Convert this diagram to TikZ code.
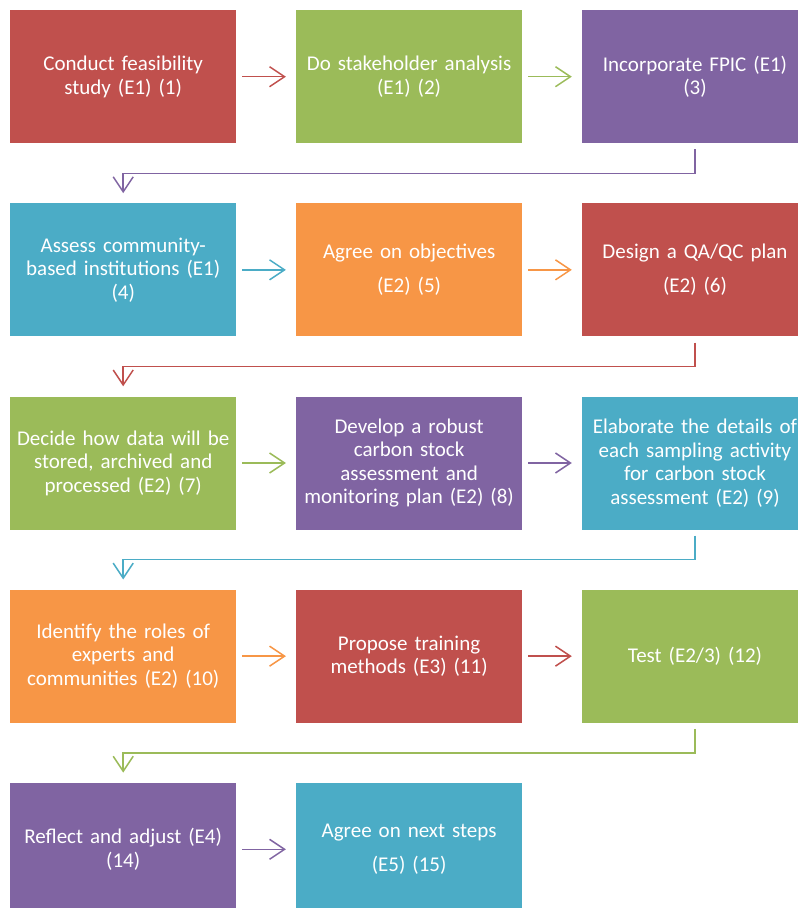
\documentclass[tikz,border=0pt]{standalone}
\usepackage{fontspec}
\setmainfont{Carlito}
\usetikzlibrary{positioning,arrows.meta}

\definecolor{stepred}{HTML}{C0504D}
\definecolor{stepgreen}{HTML}{9BBB59}
\definecolor{steppurple}{HTML}{8064A2}
\definecolor{stepaqua}{HTML}{4BACC6}
\definecolor{steporange}{HTML}{F79646}

\begin{document}
\begin{tikzpicture}[x=1pt,y=1pt,node distance=59.75pt and 59.5pt,
  stepbox/.style={rectangle,minimum width=226pt,minimum height=133pt,text width=216pt,inner sep=0pt,align=center,text=white,font=\fontsize{21}{23.5}\selectfont},
  flow/.style={draw=#1,line width=1.5pt,-{Straight Barb[length=15pt,width=20pt]},shorten <=6pt,shorten >=10pt}]

\useasboundingbox (0,0) rectangle (798,-908);

%%%%%%%%%%%%%%%%%%%%%% ROW 1

\node (S1) [stepbox,fill=stepred,anchor=north west] at (10,-10) {Conduct feasibility\\study (E1) (1)};
\node (S2) [stepbox,fill=stepgreen,right=of S1] {Do stakeholder analysis\\(E1) (2)};
\node (S3) [stepbox,fill=steppurple,right=of S2] {Incorporate FPIC (E1)\\(3)};

%%%%%%%%%%%%%%%%%%%%%% ROW 2

\node (S4) [stepbox,fill=stepaqua,below=of S1] {Assess community-\\based institutions (E1)\\(4)};
\node (S5) [stepbox,fill=steporange,right=of S4] {Agree on objectives\\[10pt](E2) (5)};
\node (S6) [stepbox,fill=stepred,right=of S5] {Design a QA/QC plan\\[10pt](E2) (6)};

%%%%%%%%%%%%%%%%%%%%%% ROW 3

\node (S7) [stepbox,fill=stepgreen,below=of S4] {Decide how data will be\\stored, archived and\\processed (E2) (7)};
\node (S8) [stepbox,fill=steppurple,right=of S7] {Develop a robust\\carbon stock\\assessment and\\monitoring plan (E2) (8)};
\node (S9) [stepbox,fill=stepaqua,right=of S8] {Elaborate the details of\\each sampling activity\\for carbon stock\\assessment (E2) (9)};

%%%%%%%%%%%%%%%%%%%%%% ROW 4

\node (S10) [stepbox,fill=steporange,below=of S7] {Identify the roles of\\experts and\\communities (E2) (10)};
\node (S11) [stepbox,fill=stepred,right=of S10] {Propose training\\methods (E3) (11)};
\node (S12) [stepbox,fill=stepgreen,right=of S11] {Test (E2/3) (12)};

%%%%%%%%%%%%%%%%%%%%%% ROW 5

\node (S14) [stepbox,fill=steppurple,below=of S10] {Reflect and adjust (E4)\\(14)};
\node (S15) [stepbox,fill=stepaqua,right=of S14] {Agree on next steps\\[10pt](E5) (15)};

%%%%%%%%%%%%%%%%%%%%%% ARROWS

\draw[flow=stepred] (S1) -- (S2);
\draw[flow=stepgreen] (S2) -- (S3);
\draw[flow=steppurple] (S3.south) -- ++(0,-30) -| (S4.north);

\draw[flow=stepaqua] (S4) -- (S5);
\draw[flow=steporange] (S5) -- (S6);
\draw[flow=stepred] (S6.south) -- ++(0,-30) -| (S7.north);

\draw[flow=stepgreen] (S7) -- (S8);
\draw[flow=steppurple] (S8) -- (S9);
\draw[flow=stepaqua] (S9.south) -- ++(0,-30) -| (S10.north);

\draw[flow=steporange] (S10) -- (S11);
\draw[flow=stepred] (S11) -- (S12);
\draw[flow=stepgreen] (S12.south) -- ++(0,-30) -| (S14.north);

\draw[flow=steppurple] (S14) -- (S15);

\end{tikzpicture}
\end{document}
